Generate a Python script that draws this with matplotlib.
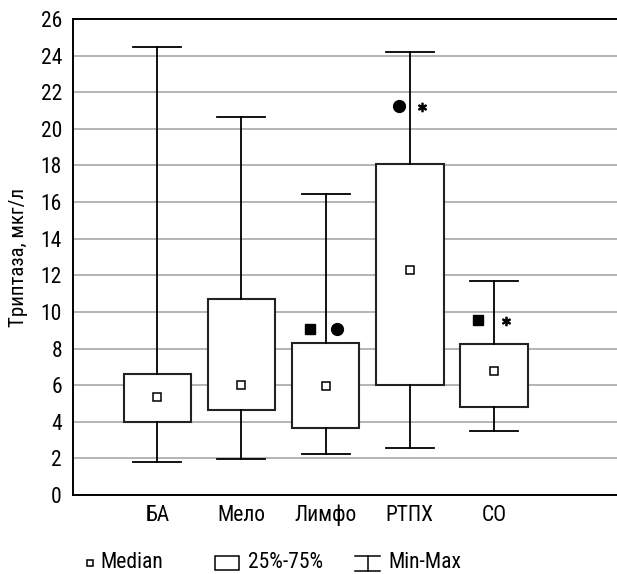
import matplotlib.pyplot as plt
from matplotlib.lines import Line2D
from matplotlib.patches import Rectangle

plt.rcParams['font.family'] = ['Roboto Condensed', 'PT Sans Narrow', 'DejaVu Sans']

# data
groups   = ["БА", "Мело", "Лимфо", "РТПХ", "СО"]
mins     = [1.82, 1.97, 2.25, 2.57, 3.52]
q1s      = [4.01, 4.65, 3.65, 6.00, 4.83]
medians  = [5.35, 6.00, 5.93, 12.30, 6.79]
q3s      = [6.60, 10.70, 8.30, 18.10, 8.26]
maxs     = [24.45, 20.67, 16.44, 24.20, 11.70]

# significance markers: (group index, side offset, value)
sq_marks   = [(2, -0.19, 9.08), (4, -0.19, 9.58)]
circ_marks = [(2, 0.13, 9.08), (3, -0.13, 21.25)]
star_marks = [(3, 0.14, 21.2), (4, 0.14, 9.5)]

y_ticks = list(range(0, 27, 2))


def main():
    fig = plt.figure(figsize=(6.17, 5.74), dpi=100)
    ax = fig.add_axes([0.1183, 0.1376, 0.8817, 0.8293])

    positions = list(range(1, len(groups) + 1))
    stats = []
    for i, name in enumerate(groups):
        stats.append({"label": name, "whislo": mins[i], "q1": q1s[i],
                      "med": medians[i], "q3": q3s[i], "whishi": maxs[i]})

    ax.bxp(stats, positions=positions, widths=0.8, capwidths=0.57,
           showfliers=False, patch_artist=True,
           boxprops=dict(facecolor='white', edgecolor='#222222', linewidth=1.5),
           whiskerprops=dict(color='black', linewidth=1.3),
           capprops=dict(color='black', linewidth=1.3),
           medianprops=dict(linewidth=0), zorder=3)

    ax.plot(positions, medians, 's', markersize=5.3, markerfacecolor='white',
            markeredgecolor='black', markeredgewidth=1.1, zorder=5)

    for gi, off, v in sq_marks:
        ax.plot(gi + 1 + off, v, 's', color='black', markersize=7.5, zorder=5)
    for gi, off, v in circ_marks:
        ax.plot(gi + 1 + off, v, 'o', color='black', markersize=8.5, zorder=5)
    for gi, off, v in star_marks:
        ax.plot(gi + 1 + off, v, marker=r'$\ast$', color='black',
                markersize=6, zorder=5)

    ax.set_xlim(0, 6.46)
    ax.set_ylim(0, 26)
    ax.set_yticks(y_ticks)
    ax.set_yticklabels([str(t) for t in y_ticks], fontsize=15.5)
    ax.set_xticks(positions)
    ax.set_xticklabels(groups, fontsize=15.5)
    ax.tick_params(axis='x', length=0, pad=7)
    ax.tick_params(axis='y', length=0, pad=8)
    ax.yaxis.grid(True, color='#a8a8a8', linewidth=1.2, zorder=0)
    ax.set_axisbelow(True)
    ax.spines['right'].set_visible(False)
    for s in ['left', 'top', 'bottom']:
        ax.spines[s].set_linewidth(1.4)
        ax.spines[s].set_color('black')
    ax.set_ylabel("Триптаза, мкг/л", fontsize=15)
    ax.yaxis.set_label_coords(-0.082, 0.5)

    # legend drawn by hand in figure pixels
    W, H = 617.0, 574.0
    yl = 1 - 563 / H
    fs = 15.5
    fig.add_artist(Line2D([90 / W], [yl], marker='s', markersize=5,
                          markerfacecolor='white', markeredgecolor='black',
                          markeredgewidth=1.1, transform=fig.transFigure))
    fig.text(100 / W, yl, "Median", fontsize=fs, va='center')
    fig.add_artist(Rectangle((215 / W, 1 - 570 / H), 24 / W, 14 / H,
                             facecolor='white', edgecolor='black', linewidth=1.1,
                             transform=fig.transFigure))
    fig.text(248 / W, yl, "25%-75%", fontsize=fs, va='center')
    fig.add_artist(Line2D([355 / W, 380 / W], [1 - 556 / H] * 2, color='black',
                          linewidth=1.1, transform=fig.transFigure))
    fig.add_artist(Line2D([367.5 / W, 367.5 / W], [1 - 556 / H, 1 - 571 / H],
                          color='black', linewidth=1.1, transform=fig.transFigure))
    fig.add_artist(Line2D([355 / W, 380 / W], [1 - 571 / H] * 2, color='black',
                          linewidth=1.1, transform=fig.transFigure))
    fig.text(388 / W, yl, "Min-Max", fontsize=fs, va='center')

    fig.savefig("out.png", dpi=100)
    plt.close('all')


if __name__ == "__main__":
    main()
